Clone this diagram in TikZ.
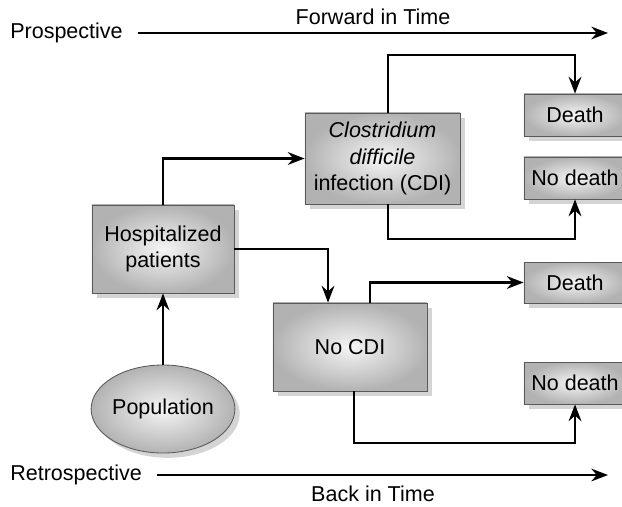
\documentclass[tikz,border=0pt]{standalone}
\usepackage{fontspec}
\setmainfont{Liberation Sans}
\usetikzlibrary{arrows.meta,shapes.geometric,shadows}

\begin{document}
\begin{tikzpicture}[x=0.025cm,y=-0.025cm,
  font=\fontsize{15.3}{19}\selectfont,
  box/.style={draw=black!65,line width=0.6pt,align=center,inner sep=0pt,
    shading=radial,inner color=black!4,outer color=black!30,
    drop shadow={shadow xshift=0.12cm,shadow yshift=-0.12cm,fill=black!17,opacity=1}},
  link/.style={line width=1.5pt,-{Stealth[length=0.42cm,width=0.32cm,inset=0.14cm]}},
  time/.style={line width=1.2pt,-{Stealth[length=0.42cm,width=0.32cm,inset=0.14cm]}}]

\useasboundingbox (0,0) rectangle (622,506);

% time axes
\node[anchor=west,inner sep=0pt] (pro) at (10,33) {Prospective};
\node[anchor=west,inner sep=0pt] (retro) at (10,475) {Retrospective};
\node (fwd) at (373,17) {Forward in Time};
\node (back) at (373,494) {Back in Time};
\coordinate (proend) at (608,33);
\coordinate (retroend) at (608,475);
\draw[time] ([xshift=0.37cm]pro.east) -- (proend);
\draw[time] ([xshift=0.37cm]retro.east) -- (retroend);

% boxes
\node[box,ellipse,minimum width=3.475cm,minimum height=2.2cm] (pop) at (163,409) {Population};
\node[box,minimum width=3.55cm,minimum height=2.2cm] (hosp) at (163,249) {Hospitalized\\patients};
\node[box,minimum width=3.875cm,minimum height=2.275cm] (cdi) at (382.5,158.5)
  {\textit{Clostridium}\\\textit{difficile}\\infection (CDI)};
\node[box,minimum width=3.85cm,minimum height=2.2cm] (nocdi) at (350,347) {No CDI};
\node[box,minimum width=2.55cm,minimum height=1.05cm] (deathA) at (575,115) {Death};
\node[box,minimum width=2.55cm,minimum height=1.05cm] (nodeathA) at (575,178) {No death};
\node[box,minimum width=2.55cm,minimum height=1.025cm] (deathB) at (575,282.5) {Death};
\node[box,minimum width=2.55cm,minimum height=1.05cm] (nodeathB) at (575,383) {No death};

% connectors
\draw[link] (pop.north) -- (hosp.south);
\draw[link] (hosp.north) |- (cdi.west);
\draw[link] (hosp.east) -| (328,0 |- nocdi.north);
\draw[link] (388,0 |- cdi.north) |- (0,55 -| deathA) -- (deathA.north);
\draw[link] (388,0 |- cdi.south) |- (0,239 -| nodeathA) -- (nodeathA.south);
\draw[link] (370,0 |- nocdi.north) |- (deathB.west);
\draw[link] (354,0 |- nocdi.south) |- (0,443 -| nodeathB) -- (nodeathB.south);
\end{tikzpicture}
\end{document}
